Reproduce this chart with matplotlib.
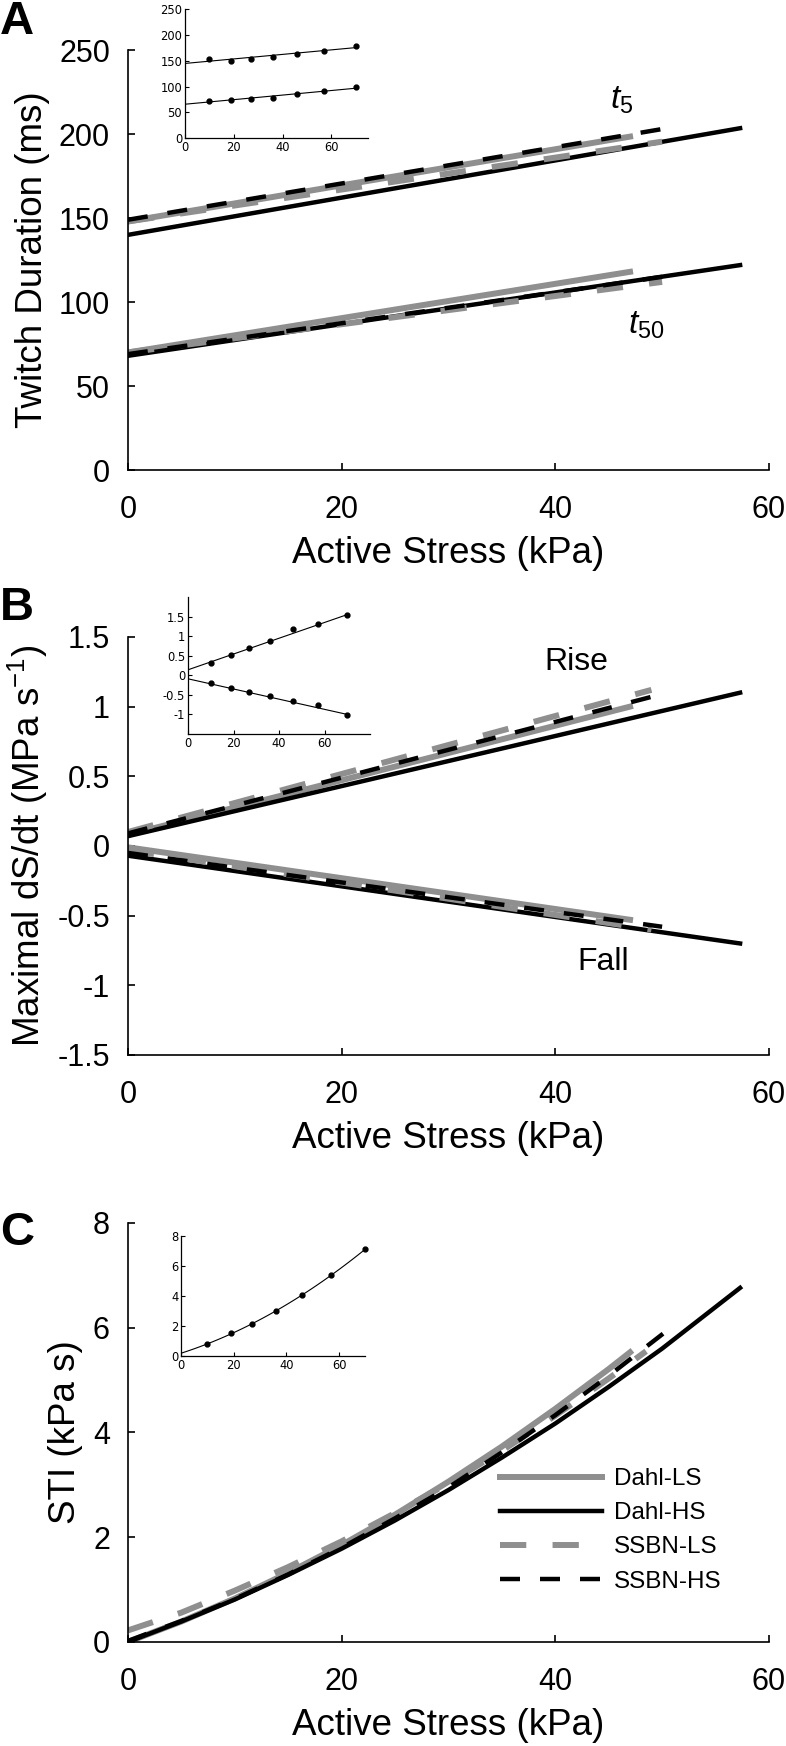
import numpy as np
import matplotlib
matplotlib.use('Agg')
import matplotlib.pyplot as plt

plt.rcParams['font.family'] = ['Liberation Sans', 'DejaVu Sans']
plt.rcParams['axes.unicode_minus'] = False
plt.rcParams['mathtext.fontset'] = 'custom'
plt.rcParams['mathtext.rm'] = 'Liberation Sans'
plt.rcParams['mathtext.it'] = 'Liberation Sans:italic'

# ---- data ----
series = ['Dahl-LS', 'Dahl-HS', 'SSBN-LS', 'SSBN-HS']

# panel A: twitch duration, start/end of each fitted line
a_x = {'Dahl-LS': [0, 47], 'Dahl-HS': [0, 57.3], 'SSBN-LS': [0, 50], 'SSBN-HS': [0, 50]}
a_t5 = {'Dahl-LS': [148, 198.5], 'Dahl-HS': [140, 203.5], 'SSBN-LS': [148, 195.5], 'SSBN-HS': [149, 203]}
a_t50 = {'Dahl-LS': [70, 118], 'Dahl-HS': [68, 122], 'SSBN-LS': [70, 112], 'SSBN-HS': [69, 115]}

# panel B: maximal dS/dt
b_x = {'Dahl-LS': [0, 47], 'Dahl-HS': [0, 57.3], 'SSBN-LS': [0, 49], 'SSBN-HS': [0, 50]}
b_rise = {'Dahl-LS': [0.08, 1.0], 'Dahl-HS': [0.07, 1.10], 'SSBN-LS': [0.10, 1.12], 'SSBN-HS': [0.09, 1.09]}
b_fall = {'Dahl-LS': [-0.01, -0.53], 'Dahl-HS': [-0.07, -0.70], 'SSBN-LS': [-0.03, -0.60], 'SSBN-HS': [-0.05, -0.58]}

# panel C: STI curves
c_x = {'Dahl-LS': [0, 5, 10, 15, 20, 25, 30, 35, 40, 45, 47],
       'Dahl-HS': [0, 5, 10, 15, 20, 25, 30, 35, 40, 45, 50, 57.3],
       'SSBN-LS': [0, 5, 10, 15, 20, 25, 30, 35, 40, 45, 48.5],
       'SSBN-HS': [0, 5, 10, 15, 20, 25, 30, 35, 40, 45, 50.5]}
c_y = {'Dahl-LS': [0, 0.39, 0.83, 1.32, 1.85, 2.43, 3.06, 3.73, 4.45, 5.21, 5.53],
       'Dahl-HS': [0, 0.39, 0.81, 1.28, 1.78, 2.32, 2.90, 3.52, 4.17, 4.87, 5.60, 6.76],
       'SSBN-LS': [0.22, 0.56, 0.98, 1.43, 1.92, 2.46, 3.03, 3.65, 4.32, 5.03, 5.55],
       'SSBN-HS': [0.02, 0.40, 0.82, 1.29, 1.80, 2.36, 2.95, 3.62, 4.33, 5.08, 5.95]}

# insets: measured points and fitted lines
ins_x = [10, 19, 27, 36, 46, 57, 70]
ins_a_t5 = [154.4, 150.5, 154.4, 158.3, 162.8, 169.3, 179]
ins_a_t50 = [72.3, 74.3, 76.9, 78.8, 85.3, 91.8, 100.1]
ins_a_fit_x = [0, 70]
ins_a_fit_t5 = [145, 175.7]
ins_a_fit_t50 = [66, 97]
ins_b_rise = [0.32, 0.51, 0.69, 0.88, 1.18, 1.31, 1.55]
ins_b_fall = [-0.20, -0.32, -0.43, -0.54, -0.66, -0.77, -1.01]
ins_b_fit_x = [0, 70]
ins_b_fit_rise = [0.14, 1.55]
ins_b_fit_fall = [-0.09, -1.0]
ins_c_sti = [0.78, 1.53, 2.14, 2.98, 4.07, 5.40, 7.13]

GRAY = '#8f8f8f'
styles = {
    'Dahl-LS': dict(color=GRAY, lw=4.3, ls='-'),
    'Dahl-HS': dict(color='k', lw=3.2, ls='-'),
    'SSBN-LS': dict(color=GRAY, lw=4.3, ls=(0, (4.4, 4.4))),
    'SSBN-HS': dict(color='k', lw=3.2, ls=(0, (4.5, 4.5))),
}

fig = plt.figure(figsize=(7.86, 17.46), dpi=100)


def style_main(ax, ylim, yticks, yticklabels, ylabel, label_x):
    ax.set_xlim(0, 60)
    ax.set_ylim(*ylim)
    ax.set_xticks([0, 20, 40, 60])
    ax.set_yticks(yticks)
    ax.set_yticklabels(yticklabels)
    ax.spines['top'].set_visible(False)
    ax.spines['right'].set_visible(False)
    for s in ['left', 'bottom']:
        ax.spines[s].set_linewidth(1.2)
    ax.tick_params(direction='in', length=5, width=1.2, labelsize=22)
    ax.tick_params(axis='x', pad=18)
    ax.tick_params(axis='y', pad=13)
    ax.set_xlabel('Active Stress (kPa)', fontsize=26.5, labelpad=8)
    ax.set_ylabel(ylabel, fontsize=26.5)
    ax.yaxis.set_label_coords(label_x, 0.5)


def style_inset(ax, xlim, ylim, yticks, yticklabels):
    ax.set_xlim(*xlim)
    ax.set_ylim(*ylim)
    ax.set_xticks([0, 20, 40, 60])
    ax.set_yticks(yticks)
    ax.set_yticklabels(yticklabels)
    ax.spines['top'].set_visible(False)
    ax.spines['right'].set_visible(False)
    for s in ['left', 'bottom']:
        ax.spines[s].set_linewidth(0.9)
    ax.tick_params(direction='in', length=3, width=0.8, pad=2)
    for lab in ax.get_xticklabels() + ax.get_yticklabels():
        lab.set_fontfamily('DejaVu Sans')
        lab.set_fontsize(8.3)
    ax.patch.set_alpha(0)


# ---- panel A ----
axA = fig.add_axes([0.1628, 0.7308, 0.8155, 0.2405])
for name in series:
    axA.plot(a_x[name], a_t5[name], **styles[name])
    axA.plot(a_x[name], a_t50[name], **styles[name])
style_main(axA, (0, 250), [0, 50, 100, 150, 200, 250],
           ['0', '50', '100', '150', '200', '250'], 'Twitch Duration (ms)', -0.122)
axA.text(45.1, 220, r'$t_5$', fontsize=24, ha='left', va='center')
axA.text(46.8, 86, r'$t_{50}$', fontsize=24, ha='left', va='center')

insA = fig.add_axes([0.2354, 0.9208, 0.2328, 0.0739])
insA.plot(ins_a_fit_x, ins_a_fit_t5, color='k', lw=0.8)
insA.plot(ins_a_fit_x, ins_a_fit_t50, color='k', lw=0.8)
insA.plot(ins_x, ins_a_t5, 'o', color='k', ms=3.5, clip_on=False)
insA.plot(ins_x, ins_a_t50, 'o', color='k', ms=3.5, clip_on=False)
style_inset(insA, (0, 75), (0, 250), [0, 50, 100, 150, 200, 250],
            ['0', '50', '100', '150', '200', '250'])

# ---- panel B ----
axB = fig.add_axes([0.1628, 0.3958, 0.8155, 0.2394])
for name in series:
    axB.plot(b_x[name], b_rise[name], **styles[name])
    axB.plot(b_x[name], b_fall[name], **styles[name])
style_main(axB, (-1.5, 1.5), [-1.5, -1, -0.5, 0, 0.5, 1, 1.5],
           ['-1.5', '-1', '-0.5', '0', '0.5', '1', '1.5'],
           r'Maximal dS/dt (MPa s$^{-1}$)', -0.122)
axB.text(42.0, 1.32, 'Rise', fontsize=23, ha='center', va='center')
axB.text(44.5, -0.83, 'Fall', fontsize=23, ha='center', va='center')

insB = fig.add_axes([0.2392, 0.5796, 0.2316, 0.0785])
insB.plot(ins_b_fit_x, ins_b_fit_rise, color='k', lw=0.8)
insB.plot(ins_b_fit_x, ins_b_fit_fall, color='k', lw=0.8)
insB.plot(ins_x, ins_b_rise, 'o', color='k', ms=3.5, clip_on=False)
insB.plot(ins_x, ins_b_fall, 'o', color='k', ms=3.5, clip_on=False)
style_inset(insB, (0, 80), (-1.5, 2.0), [-1, -0.5, 0, 0.5, 1, 1.5],
            ['-1', '-0.5', '0', '0.5', '1', '1.5'])

# ---- panel C ----
axC = fig.add_axes([0.1628, 0.0596, 0.8155, 0.2400])
for name in series:
    axC.plot(c_x[name], c_y[name], label=name, **styles[name])
style_main(axC, (0, 8), [0, 2, 4, 6, 8], ['0', '2', '4', '6', '8'],
           'STI (kPa s)', -0.070)
axC.legend(loc='upper left', bbox_to_anchor=(0.58, 0.415), frameon=False,
           fontsize=17.5, handlelength=4.2, handletextpad=0.5,
           labelspacing=0.5, borderpad=0, borderaxespad=0)

insC = fig.add_axes([0.2303, 0.2234, 0.2347, 0.0687])
coef = np.polyfit(ins_x, ins_c_sti, 2)
xx = np.linspace(0, 70, 100)
insC.plot(xx, np.polyval(coef, xx), color='k', lw=0.8)
insC.plot(ins_x, ins_c_sti, 'o', color='k', ms=3.5, clip_on=False)
style_inset(insC, (0, 70), (0, 8), [0, 2, 4, 6, 8], ['0', '2', '4', '6', '8'])

# panel letters
fig.text(0.0, 1.0, 'A', fontsize=34, fontweight='bold', ha='left', va='top')
fig.text(0.0, 0.6644, 'B', fontsize=34, fontweight='bold', ha='left', va='top')
fig.text(0.0, 0.3064, 'C', fontsize=34, fontweight='bold', ha='left', va='top')

fig.savefig('out.png', dpi=100)
